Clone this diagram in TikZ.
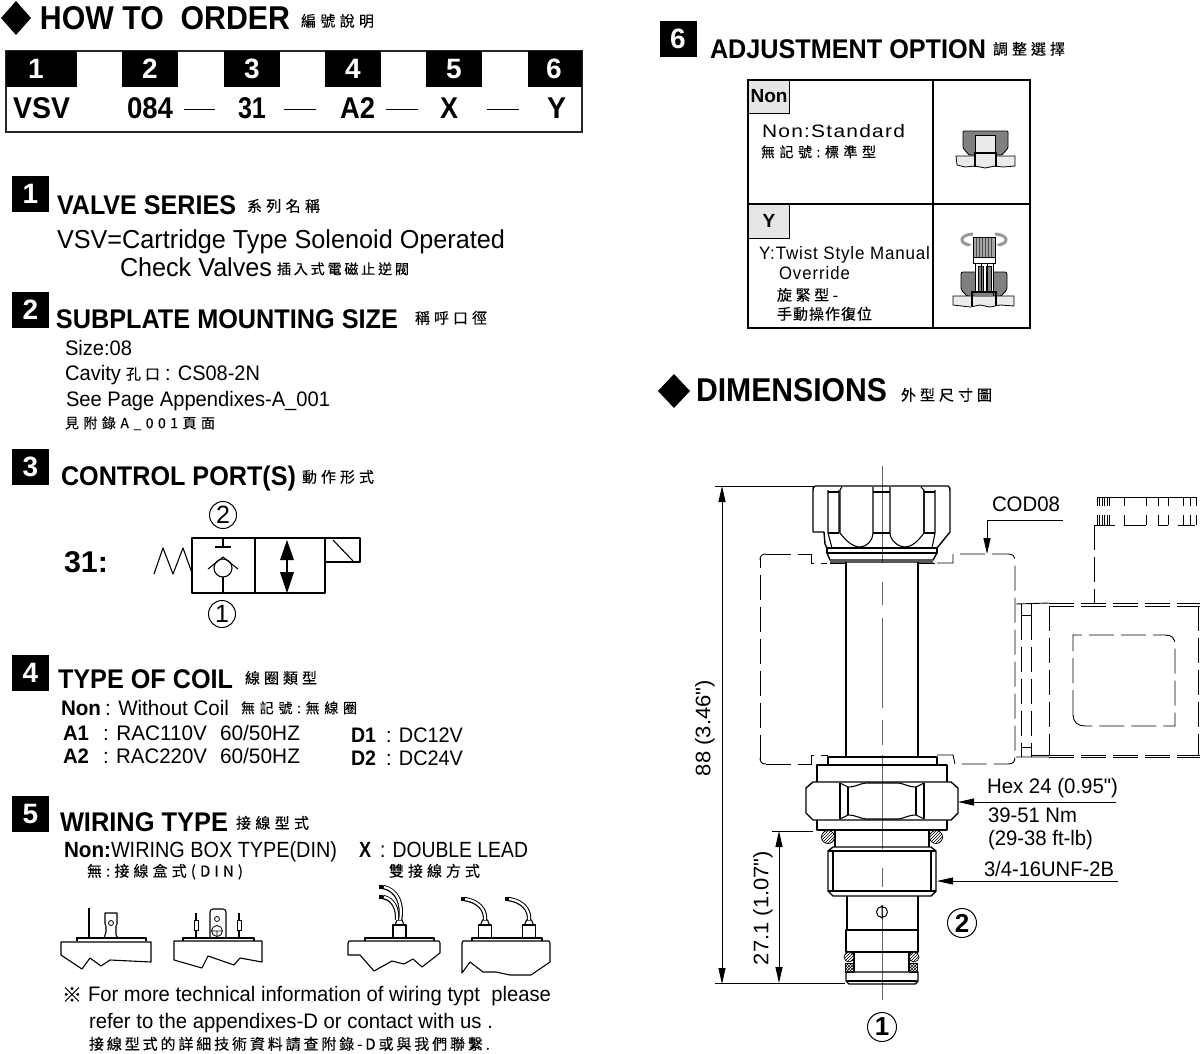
\documentclass[tikz,border=0pt]{standalone}
\usepackage{fontspec}
\usepackage{graphicx}
\usetikzlibrary{arrows.meta,patterns}
\setmainfont{Liberation Sans}
\newfontfamily\plainf{Liberation Sans}
\newfontfamily\cjk[FakeBold=0.25]{Noto Sans CJK TC}
\makeatletter
\newcommand\sprd[2]{\hbox to #1pt{\def\mysep{}\@tfor\mychar:=#2\do{\mysep\mychar\def\mysep{\hfil}}}}
\makeatother
% name, x, y centre, width, size, text
\newcommand\T[6]{\node[lbl] (#1) at (#2,{#3+0.358*#5}) {\fontsize{#5pt}{#5pt}\selectfont\resizebox{#4pt}{\height}{#6}};}
\newcommand\B[6]{\T{#1}{#2}{#3}{#4}{#5}{\bfseries #6}}
\newcommand\K[6]{\node[lbl] (#1) at (#2,{#3+0.37*#5}) {\fontsize{#5pt}{#5pt}\selectfont\cjk\sprd{#4}{#6}};}
\tikzset{
 lbl/.style={anchor=base west,inner sep=0pt,outer sep=0pt},
 badge/.style={fill=black,text=white,inner sep=0pt,minimum width=37pt,minimum height=36pt,font=\bfseries\fontsize{28pt}{28pt}\selectfont},
 headcell/.style={fill=black,text=white,inner sep=0pt,font=\bfseries\fontsize{28pt}{28pt}\selectfont},
 circ/.style={draw,circle,line width=1pt,inner sep=0pt,minimum size=27pt,font=\fontsize{25pt}{25pt}\selectfont},
 circb/.style={draw,circle,line width=1pt,inner sep=0pt,minimum size=29pt,font=\bfseries\fontsize{26pt}{26pt}\selectfont},
 dia/.style={fill=black},
 thin1/.style={line width=0.8pt},
 thick1/.style={line width=1.4pt,line join=round},
 dsh/.style={line width=0.9pt,dash pattern=on 25pt off 7pt},
 tip/.style={-{Triangle[length=16pt,width=7pt]}},
 tipb/.style={{Triangle[length=16pt,width=7pt]}-{Triangle[length=16pt,width=7pt]}},
 cline/.style={line width=0.7pt,black!60},
 body/.style={line width=1.1pt,line join=round},
}
\begin{document}
\begin{tikzpicture}[x=1pt,y=-1pt]
\path[use as bounding box,fill=white] (0,0) rectangle (1200,1053);
% ---- heading
\fill[dia] (1,18)--(16,1)--(31,18)--(16,35)--cycle;
\B{howto}{40}{18}{250}{33}{HOW TO\ \ ORDER}
\K{howtoc}{301}{21}{73}{15}{編號說明}
% ---- order table
\draw[line width=1.3pt,black!85] (6,51) rectangle (582,132);
\foreach \a/\b in {6/77,122/178,224/280,325/381,426/482,528/582}{\fill[black] (\a,51) rectangle (\b,87);}
\node[headcell] (h1) at (36,69) {1};
\node[headcell] (h2) at (150,69) {2};
\node[headcell] (h3) at (252,69) {3};
\node[headcell] (h4) at (353,69) {4};
\node[headcell] (h5) at (454,69) {5};
\node[headcell] (h6) at (554,69) {6};
\B{v1}{13}{108}{57}{30}{VSV}
\B{v2}{127}{108}{46}{30}{084}
\B{v3}{238}{108}{28}{30}{31}
\B{v4}{340}{108}{35}{30}{A2}
\B{v5}{440}{108}{18}{30}{X}
\B{v6}{547}{108}{19}{30}{Y}
\foreach \a/\b in {184/215,284/316,386/418,487/519}{\draw[line width=1pt] (\a,109)--(\b,109);}
% ---- 1
\node[badge] (b1) at (30.5,194) {1};
\B{t1}{57}{205}{179}{27}{VALVE SERIES}
\K{t1c}{247}{206}{73}{15}{系列名稱}
\T{t1a}{57}{239}{448}{26}{VSV=Cartridge Type Solenoid Operated}
\T{t1b}{120}{267}{152}{26}{Check Valves}
\K{t1d}{277}{269}{132}{14}{插入式電磁止逆閥}
% ---- 2
\node[badge] (b2) at (30.5,310) {2};
\B{t2}{56}{319}{342}{27}{SUBPLATE MOUNTING SIZE}
\K{t2c}{415}{318}{72}{15}{稱呼口徑}
\T{t2a}{65}{348}{67}{21}{Size:08}
\T{t2b}{65}{373}{56}{21}{Cavity}
\K{t2bc}{126}{374}{34}{15}{孔口}
\T{t2bd}{165}{373}{95}{21}{: CS08-2N}
\T{t2d}{66}{399}{264}{21}{See Page Appendixes-A\_001}
\K{t2e}{65}{423}{150}{14}{見附錄A\_001頁面}
% ---- 3
\node[badge] (b3) at (30.5,467) {3};
\B{t3}{61}{476}{235}{27}{CONTROL PORT(S)}
\K{t3c}{302}{477}{72}{15}{動作形式}
\B{t3a}{64}{562}{44}{30}{31:}
\draw[body] (192,538) rectangle (325,593);
\draw[body] (255,538)--(255,593);
\draw[body] (325,538)--(360,538)--(360,562)--(325,562);
\draw[body] (333,540)--(353,561);
\draw[body] (154,574)--(163,548)--(173,574)--(183,548)--(192,573);
\draw[body] (223,538)--(223,547) (215,547)--(231,547);
\draw[body] (208,569)--(223,557)--(238,569);
\draw[body] (223,568) circle (9);
\draw[body] (223,577)--(223,593);
\draw[body] (287,555)--(287,580);
\fill (287,540)--(294,560)--(280,560)--cycle;
\fill (287,593)--(294,572)--(280,572)--cycle;
\node[circ] (c2a) at (223,515) {2};
\node[circ] (c1a) at (222,614) {1};
% ---- 4
\node[badge] (b4) at (30.5,673) {4};
\B{t4}{58}{679}{175}{27}{TYPE OF COIL}
\K{t4c}{245}{678}{72}{15}{線圈類型}
\B{t4n}{61}{708}{40}{21}{Non}
\T{t4m}{105}{708}{124}{21}{: Without Coil}
\K{t4k}{241}{708}{116}{14}{無記號:無線圈}
\B{a1}{63}{733}{26}{21}{A1}
\T{a1t}{103}{733}{104}{21}{: RAC110V}
\T{a1h}{220}{733}{80}{21}{60/50HZ}
\B{a2}{63}{756}{26}{21}{A2}
\T{a2t}{103}{756}{104}{21}{: RAC220V}
\T{a2h}{220}{756}{80}{21}{60/50HZ}
\B{d1}{351}{735}{25}{21}{D1}
\T{d1t}{386}{735}{77}{21}{: DC12V}
\B{d2}{351}{758}{25}{21}{D2}
\T{d2t}{386}{758}{77}{21}{: DC24V}
% ---- 5
\node[badge] (b5) at (30.5,814) {5};
\B{t5}{60}{822}{168}{27}{WIRING TYPE}
\K{t5c}{236}{823}{73}{15}{接線型式}
\B{t5n}{64}{850}{47}{22}{Non:}
\T{t5w}{111}{850}{226}{22}{WIRING BOX TYPE(DIN)}
\B{t5x}{359}{850}{12}{22}{X}
\T{t5d}{380}{850}{148}{22}{: DOUBLE LEAD}
\K{t5e}{87}{871}{156}{15}{無:接線盒式(DIN)}
\K{t5f}{389}{871}{91}{15}{雙接線方式}
% wiring pic 1
\draw[body] (61,942)--(151,942)--(151,962)--(110,960)--(101,966)--(90,958)--(82,969)--(61,955)--cycle;
\draw[body] (77,941)--(77,938)--(146,938)--(146,941);
\draw[line width=2pt] (89,908)--(89,938);
\draw[body] (104,938)--(105,935)--(106,932)--(106,926)--(105,924)--(105,913)--(117,913)--(117,924)--(116,926)--(116,935)--(118,938);
\draw[line width=.8pt] (111,923) circle (2.5);
% wiring pic 2
\draw[body] (174,941)--(262,941)--(262,962)--(240,958)--(234,965)--(208,956)--(202,968)--(174,960)--cycle;
\draw[body] (183,941)--(183,938)--(254,938)--(254,941);
\draw[body,rounded corners=3pt] (210,937)--(210,909)--(226,909)--(226,937);
\draw[line width=.8pt] (217,919) circle (2.5);
\draw[line width=.8pt] (217,931) circle (5.5) (212,931)--(222,931) (217,931)--(217,936);
\foreach \x in {196,239}{\draw[line width=1.4pt] (\x,913)--(\x,938); \draw[line width=.8pt,fill=white] (\x-2,920) rectangle (\x+2,930);}
% wiring pic 3
\draw[body] (348,943)--(349,941)--(439,941)--(440,943)--(440,953)--(422,967)--(413,959)--(404,964)--(392,961)--(374,971)--(360,955)--(348,955)--cycle;
\draw[body] (365,941)--(365,938)--(434,938)--(434,941);
\draw[body] (393,938)--(393,925)--(406,925)--(406,938) (391,938)--(408,938);
\draw[body] (395,925)--(397,920)--(402,920)--(404,925);
\draw[line width=4.4pt] (400,920) .. controls (403,905) and (398,890) .. (383,887);
\draw[line width=2.2pt,white] (400,920) .. controls (403,905) and (398,890) .. (384,887);
\draw[line width=4.4pt] (397,920) .. controls (398,910) and (394,899) .. (383,897);
\draw[line width=2.2pt,white] (397,920) .. controls (398,910) and (394,899) .. (384,897);
\draw[line width=4.6pt] (379,887)--(383,887) (379,897)--(383,897);
% wiring pic 4
\draw[body] (462,973)--(462,943)--(463,941)--(549,941)--(550,943)--(550,962)--(531,975)--(510,975)--(496,972)--(483,972)--(470,962)--cycle;
\draw[body] (472,941)--(472,938)--(542,938)--(542,941);
\foreach \x in {485,529}{
 \draw[body] (\x-6.5,938)--(\x-6.5,925)--(\x+6.5,925)--(\x+6.5,938) (\x-9,938)--(\x+9,938);
 \draw[body] (\x-4.5,925)--(\x-2.5,920)--(\x+2.5,920)--(\x+4.5,925);
 \draw[line width=4.4pt] (\x,920) .. controls (\x+1,910) and (\x-6,901) .. (\x-21,899);
 \draw[line width=2.2pt,white] (\x,920) .. controls (\x+1,910) and (\x-6,901) .. (\x-20,899);
 \draw[line width=4.6pt] (\x-24,899)--(\x-20,899);
}
% notes
\node[lbl] (ast) at (62,1002) {\fontsize{20pt}{20pt}\selectfont\cjk ※};
\T{n1}{88}{994}{463}{21}{For more technical information of wiring typt\ \ please}
\T{n2}{89}{1021}{404}{21}{refer to the appendixes-D or contact with us .}
\K{n3}{89}{1044}{401}{15}{接線型式的詳細技術資料請查附錄-D或與我們聯繫.}
% ---- 6
\node[badge] (b6) at (678,39) {6};
\B{t6}{710}{49}{276}{27}{ADJUSTMENT OPTION}
\K{t6c}{993}{49}{72}{15}{調整選擇}
\draw[line width=1.1pt] (748,80) rectangle (1030,328);
\draw[line width=1.1pt] (933,80)--(933,328) (748,204)--(1030,204);
\node[draw,fill=black!10,line width=.9pt,inner sep=0pt,minimum width=41pt,minimum height=33pt,font=\bfseries\fontsize{19pt}{19pt}\selectfont] (non) at (769,96.5) {Non};
\node[draw,fill=black!10,line width=.9pt,inner sep=0pt,minimum width=41pt,minimum height=34pt,font=\bfseries\fontsize{19pt}{19pt}\selectfont] (yy) at (769,221) {Y};
\T{o1}{762}{131}{143}{18}{\addfontfeature{LetterSpace=6}Non:Standard}
\K{o2}{761}{152}{115}{14}{無記號:標準型}
\T{o3}{759}{253}{171}{18}{\addfontfeature{LetterSpace=5}Y:Twist Style Manual}
\T{o4}{779}{273}{71}{18}{\addfontfeature{LetterSpace=6}Override}
\K{o5}{777}{295}{61}{15}{旋緊型-}
\K{o6}{777}{314}{95}{15}{手動操作復位}
% icon Non
\filldraw[fill=black!50,line width=.8pt,rounded corners=1pt] (963,131)--(1008,131)--(1008,148)--(1002,155)--(969,155)--(963,148)--cycle;
\filldraw[fill=black!8,line width=1pt] (975,155)--(975,135)--(995,135)--(995,155)--cycle;
\filldraw[fill=black!8,line width=.8pt] (956,156)--(975,156)--(975,153)--(996,153)--(996,156)--(1015,156)--(1015,166)--(1003,167)--(995,166)--(985,168)--(975,166)--(965,167)--(957,165)--cycle;
\draw[line width=1.2pt] (975,167)--(975,153)--(996,153)--(996,167);
% icon Y
\draw[line width=3pt,black!40,-{Stealth[length=5pt]}] (973,234) .. controls (958,235) and (960,244) .. (972,245);
\draw[line width=3pt,black!40,-{Stealth[length=5pt]}] (995,234) .. controls (1010,235) and (1008,244) .. (996,245);
\filldraw[fill=black!35,line width=.8pt] (973,237) rectangle (995,257);
\foreach \x in {976,979,...,993}{\draw[line width=.5pt,black!70] (\x,238)--(\x,257);}
\draw[line width=.8pt,fill=white] (973,257) rectangle (995,263);
\filldraw[fill=black!50,line width=.8pt,rounded corners=2pt] (961,272)--(1007,272)--(1007,290)--(1000,297)--(968,297)--(961,290)--cycle;
\filldraw[fill=white,line width=.8pt] (975,263) rectangle (993,296);
\filldraw[fill=black!50,line width=.5pt] (978,266) rectangle (983,294) (986,266) rectangle (991,294);
\draw[line width=.9pt] (981,263)--(981,295) (987,263)--(987,295);
\filldraw[fill=black!8,line width=.8pt] (953,296)--(1014,296)--(1014,306)--(1000,305)--(990,307)--(980,305)--(970,307)--(953,305)--cycle;
\fill[black!50] (975,292) rectangle (993,297);
\draw[line width=1.2pt] (972,306)--(972,292)--(996,292)--(996,306);
% ---- DIMENSIONS
\fill[dia] (658,391)--(674,374)--(690,391)--(674,408)--cycle;
\B{dimt}{696}{390}{191}{33}{DIMENSIONS}
\K{dimc}{901}{395}{91}{15}{外型尺寸圖}
% centre line
\foreach \a/\b in {466/563,582/605,618/708,720/745,755/849,868/887,905/1000}{\draw[cline] (882,\a)--(882,\b);}
% cap
\draw[thick1] (815,486)--(948,486) .. controls (950,487) and (950,488) .. (950,491)--(950,532)--(937,548);
\draw[thick1] (815,486) .. controls (813,487) and (813,488) .. (813,491)--(813,532)--(824,532)--(825,544)--(827,548);
\draw[body] (828,490)--(828,533)--(832,548) (839,490)--(839,533);
\draw[body] (935,490)--(935,533)--(932,548) (924,490)--(924,533);
\draw[body] (828,492)--(839,492) (828,533)--(839,533) (873,492)--(890,492) (873,533)--(890,533) (924,492)--(935,492) (924,533)--(935,533);
\draw[body] (842,487) .. controls (840,488) and (840,490) .. (840,494)--(840,533) .. controls (846,541) and (853,547) .. (860,547) .. controls (867,547) and (873,540) .. (873,533)--(873,487);
\draw[body] (890,487)--(890,533) .. controls (890,540) and (898,547) .. (905,547) .. controls (912,547) and (918,541) .. (924,533)--(924,494) .. controls (924,490) and (923,488) .. (921,487);
\draw[thick1] (827,548)--(937,548)--(937,553)--(927,553)--(827,553)--cycle;
\draw[thick1] (827,553)--(830,560)--(933,560)--(937,553) (830,562)--(933,562);
% tube
\draw[thick1] (846,562)--(846,757) (918,562)--(918,757);
\draw[line width=1pt] (830,563)--(846,563) (918,563)--(935,563);
% coil dashed
\draw[dsh] (760,760)--(760,558);
\draw[line width=.9pt] (760,560) .. controls (760,556) and (762,554) .. (766,554);
\draw[dsh] (766,554)--(811,554)--(811,563)--(827,563);
\draw[line width=.9pt] (760,758) .. controls (760,762) and (762,764) .. (766,764);
\draw[dsh] (766,764)--(811,764)--(811,755)--(828,755);
\draw[dsh] (937,563)--(953,563)--(953,554)--(1008,554) .. controls (1013,554) and (1015,556) .. (1015,562)--(1015,756) .. controls (1015,762) and (1013,764) .. (1008,764)--(955,764)--(953,755)--(935,755);
% right view
\draw[line width=.9pt] (1016,604)--(1049,603) (1016,757)--(1049,757);
\draw[dsh] (1049,603)--(1200,603) (1049,606)--(1200,606) (1049,755)--(1200,755) (1049,757.5)--(1200,757.5);
\draw[dsh] (1021,615)--(1021,747) (1031,615)--(1031,747) (1049,606)--(1049,755) (1198,606)--(1198,755);
\draw[line width=.9pt] (1021,604)--(1021,615)--(1031,615) (1031,603)--(1031,615);
\draw[line width=.9pt] (1021,747)--(1031,747)--(1031,757) (1021,747)--(1021,757) (1031,755)--(1049,755);
\draw[dsh] (1094,525)--(1094,604);
\draw[dsh] (1073,715)--(1073,635)--(1165,635) .. controls (1172,635) and (1175,638) .. (1175,645)--(1175,726)--(1085,726);
\draw[line width=.9pt] (1085,726) .. controls (1078,726) and (1073,722) .. (1073,715);
\draw[line width=.9pt] (1097,497)--(1196,497);
\draw[line width=.9pt] (1094,525)--(1115,525) (1124,525)--(1146,525) (1158,525)--(1168,525) (1178,525)--(1195,525);
\foreach \x in {1097,1099.5,...,1110}{\draw[line width=.6pt] (\x,497)--(\x,506) (\x,515)--(\x,525);}
\foreach \x in {1124,1146,1158,1168,1183,1190,1196}{\draw[line width=.8pt] (\x,497)--(\x,506) (\x,515)--(\x,525);}
% COD08
\T{cod}{992}{504}{68}{21}{COD08}
\coordinate (codl) at (1063,520);
\coordinate (codm) at (987,520);
\coordinate (codt) at (987,554);
\draw[line width=.9pt,tip] (codl)--(codm)--(codt);
% nut etc
\draw[body] (828,765)--(828,757)--(937,757)--(937,765);
\draw[thick1] (817,782)--(817,765)--(947,765)--(947,782);
\draw[thick1] (813,782)--(951,782)--(958,788)--(958,813)--(951,820)--(813,820)--(806,813)--(806,788)--cycle;
\draw[body] (840,783)--(848,787) .. controls (856,787) and (858,784) .. (866,783)--(898,783) .. controls (906,784) and (908,787) .. (916,787)--(924,783);
\draw[body] (840,819)--(848,815) .. controls (856,815) and (858,818) .. (866,819)--(898,819) .. controls (906,818) and (908,815) .. (916,815)--(924,819);
\draw[body] (840,783)--(840,819) (848,787)--(848,815) (916,787)--(916,815) (924,783)--(924,819);
\draw[thick1] (817,820)--(817,830)--(947,830)--(947,820);
\draw[thick1] (835,830)--(835,847) (929,830)--(929,847);
\foreach \x in {828,936}{\filldraw[fill=white,line width=.8pt] (\x,837) circle (6.5); \fill[pattern=north east lines,pattern color=black] (\x,837) circle (6.5);}
% thread
\draw[thick1] (833,847)--(931,847)--(936,851)--(936,891)--(931,896)--(833,896)--(828,891)--(828,851)--cycle;
\draw[body] (828,851)--(936,851) (828,891)--(936,891) (833,851)--(833,891) (931,851)--(931,891);
\draw[thick1] (847,896)--(847,930) (918,896)--(918,930);
\draw[line width=1pt] (882,912) circle (5.5) (882,905)--(882,919);
\draw[thick1] (846,930) rectangle (918,952);
\draw[thick1] (854,952)--(854,972) (909,952)--(909,972);
\foreach \x in {849,914}{\filldraw[fill=white,line width=.7pt] (\x,957) circle (5); \fill[pattern=north east lines,pattern color=black] (\x,957) circle (5);}
\foreach \x in {849,913}{\filldraw[fill=white,line width=.7pt] (\x-4,963) rectangle (\x+4,972); \fill[pattern=crosshatch,pattern color=black] (\x-4,963) rectangle (\x+4,972);}
\draw[thick1] (846,972)--(918,972)--(918,981)--(915,984)--(849,984)--(846,981)--cycle;
\draw[body] (847,981)--(917,981);
% dimension lines
\coordinate (d88a) at (722,486);
\coordinate (d88b) at (722,984);
\draw[line width=.9pt] (715,486)--(815,486);
\draw[line width=.9pt] (715,983.5)--(845,983.5);
\draw[line width=.9pt,tipb] (d88a)--(d88b);
\coordinate (d27a) at (779,831);
\coordinate (d27b) at (779,983);
\draw[line width=.9pt] (772,831)--(813,831);
\draw[line width=.9pt,tipb] (d27a)--(d27b);
\node[anchor=center,inner sep=0pt,rotate=90,font=\fontsize{21pt}{21pt}\selectfont] (l88) at (705,728) {\resizebox{96pt}{\height}{\plainf 88 (3.46")}};
\node[anchor=center,inner sep=0pt,rotate=90,font=\fontsize{21pt}{21pt}\selectfont] (l27) at (763,908) {\resizebox{114pt}{\height}{\plainf 27.1 (1.07")}};
% leaders
\T{hex}{987}{786}{131}{21}{\plainf Hex 24 (0.95")}
\T{nm}{988}{815}{89}{21}{39-51 Nm}
\T{ft}{988}{838}{105}{21}{(29-38 ft-lb)}
\T{unf}{984}{869}{130}{21}{3/4-16UNF-2B}
\coordinate (hexl) at (1116,802);
\coordinate (hexr) at (958,802);
\draw[line width=.9pt,tip] (hexl)--(hexr);
\coordinate (unfl) at (1118,881);
\coordinate (unfr) at (937,881);
\draw[line width=.9pt,tip] (unfl)--(unfr);
\node[circb] (c2b) at (962,923) {2};
\node[circb] (c1b) at (882,1027) {1};
\end{tikzpicture}
\end{document}
